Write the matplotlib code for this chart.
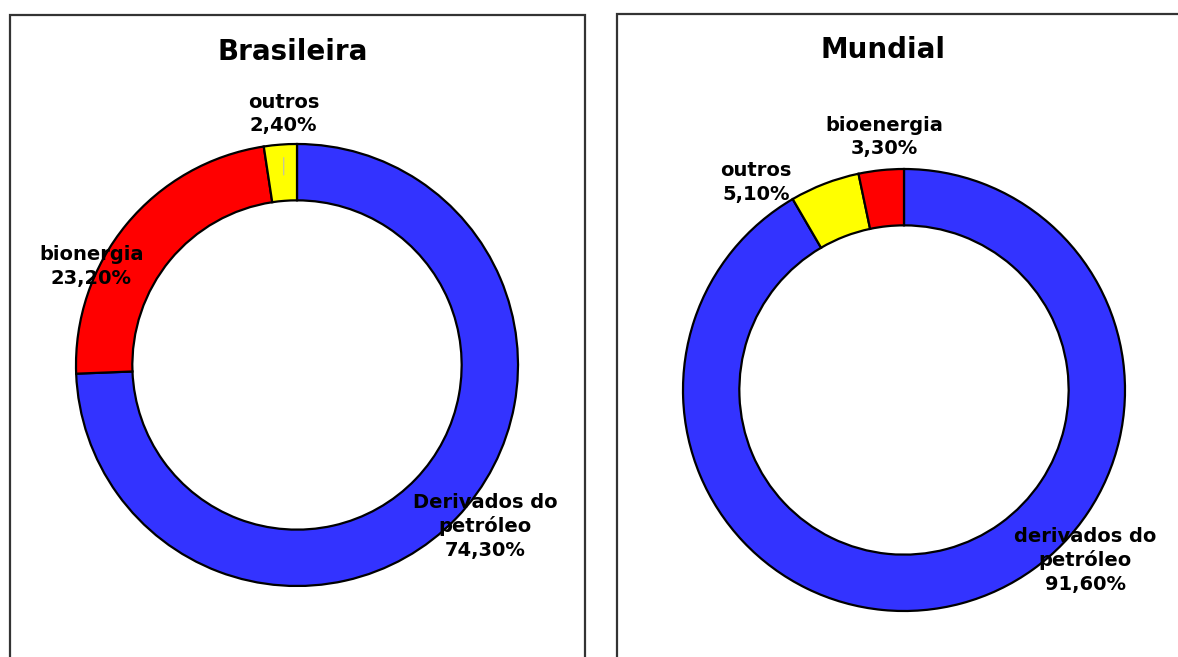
import matplotlib.pyplot as plt
from matplotlib.patches import Rectangle

# Participation shares (%) of each energy source in transport
br_labels = ["Derivados do\npetróleo", "bionergia", "outros"]
br_values = [74.3, 23.2, 2.4]
br_colors = ["#3333ff", "#ff0000", "#ffff00"]

mu_labels = ["derivados do\npetróleo", "outros", "bioenergia"]
mu_values = [91.6, 5.1, 3.3]
mu_colors = ["#3333ff", "#ffff00", "#ff0000"]

W, H = 1178, 657
fig = plt.figure(figsize=(W / 100, H / 100), dpi=100)
fig.patch.set_facecolor("white")


def fmt(v):
    return f"{v:.2f}%".replace(".", ",")


def px_axes(cx, cy, r):
    # axes in pixel coordinates centred on (cx, cy) from the top-left corner
    return fig.add_axes([(cx - r) / W, (H - cy - r) / H, 2 * r / W, 2 * r / H])


def panel_box(x0, x1, top):
    rect = Rectangle((x0 / W, -0.1), (x1 - x0) / W, 1.1 - top / H,
                     transform=fig.transFigure, fill=False,
                     edgecolor="#333333", linewidth=1.6, clip_on=False)
    fig.patches.append(rect)


def donut(ax, values, colors):
    ax.pie(values, colors=colors, startangle=90, counterclock=False,
           radius=1.0, wedgeprops=dict(width=0.255, edgecolor="black",
                                       linewidth=1.6))
    ax.set_xlim(-1, 1)
    ax.set_ylim(-1, 1)
    ax.set_aspect("equal")
    ax.axis("off")


txt = dict(ha="center", va="center", fontsize=14, fontweight="bold",
           family="DejaVu Sans", linespacing=1.3, clip_on=False, zorder=5)

panel_box(10, 585, 15)
panel_box(617, 1192, 14)

# Brasileira
ax1 = px_axes(297, 365, 221)
donut(ax1, br_values, br_colors)
fig.text(293 / W, 1 - 52 / H, "Brasileira", ha="center", va="center",
         fontsize=20, fontweight="bold")
ax1.annotate(f"{br_labels[2]}\n{fmt(br_values[2])}", xy=(-0.06, 0.86),
             xytext=(-0.06, 1.135),
             arrowprops=dict(arrowstyle="-", color="#bbbbbb", lw=0.8,
                             shrinkA=14, shrinkB=0), **txt)
ax1.text(-0.93, 0.445, f"{br_labels[1]}\n{fmt(br_values[1])}", **txt)
ax1.text(0.85, -0.73, f"{br_labels[0]}\n{fmt(br_values[0])}", **txt)

# Mundial
ax2 = px_axes(904, 390, 221)
donut(ax2, mu_values, mu_colors)
fig.text(883 / W, 1 - 50 / H, "Mundial", ha="center", va="center",
         fontsize=20, fontweight="bold")
ax2.text(-0.09, 1.145, f"{mu_labels[2]}\n{fmt(mu_values[2])}", **txt)
ax2.text(-0.67, 0.94, f"{mu_labels[1]}\n{fmt(mu_values[1])}", **txt)
ax2.text(0.82, -0.77, f"{mu_labels[0]}\n{fmt(mu_values[0])}", **txt)

fig.savefig("out.png", dpi=100)
